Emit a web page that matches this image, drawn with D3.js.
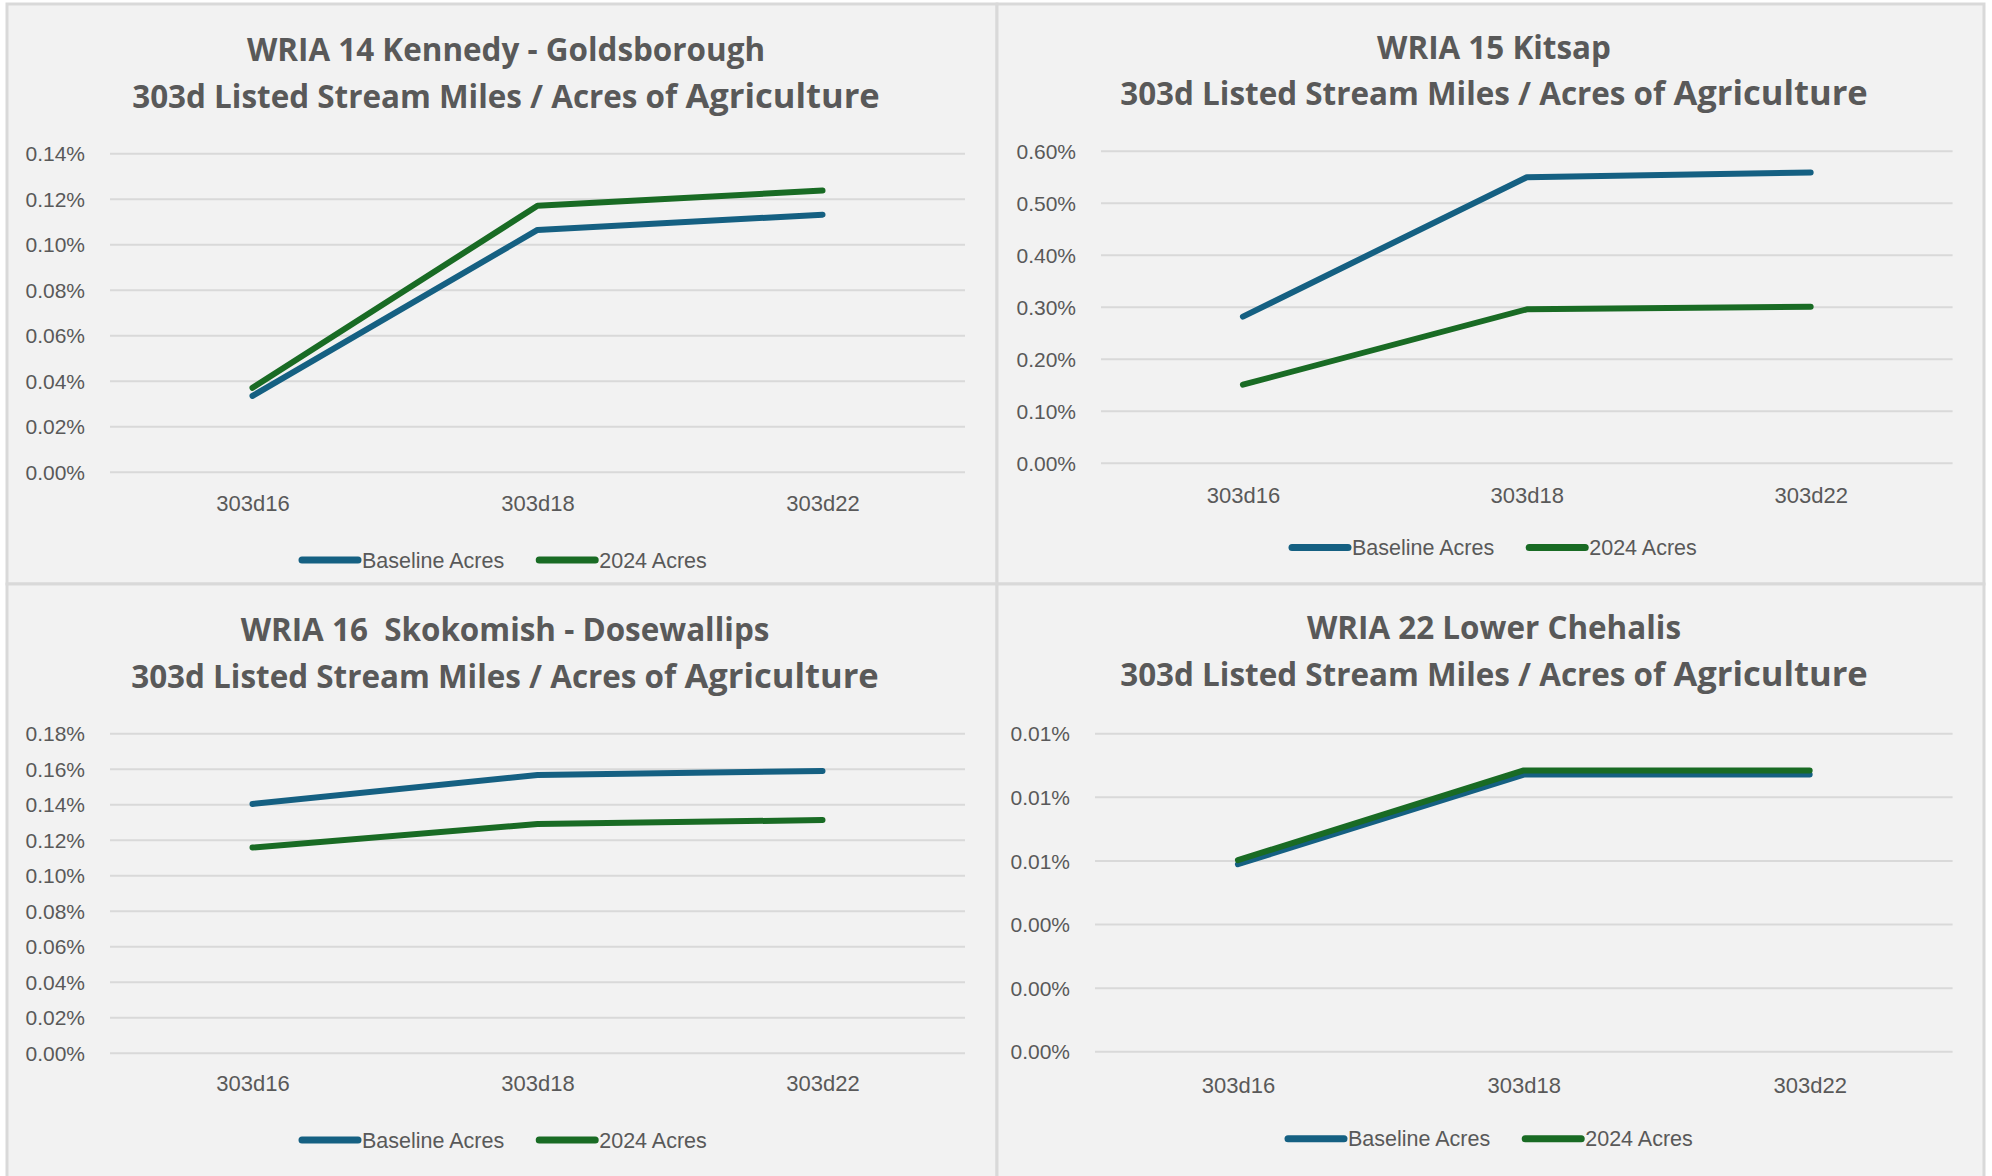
<!DOCTYPE html>
<html>
<head>
<meta charset="utf-8">
<script src="https://cdn.jsdelivr.net/npm/d3@7"></script>
<style>
  body { margin: 0; background: #ffffff; }
  svg { display: block; }
  text { fill: #595959; }
  .title { font-family: "Open Sans", "Liberation Sans", sans-serif; font-weight: 700; white-space: pre; }
  .tick-label { font-family: "Liberation Sans", Arial, sans-serif; font-size: 21px; }
  .cat-label { font-family: "Liberation Sans", Arial, sans-serif; font-size: 22px; }
  .legend-label { font-family: "Liberation Sans", Arial, sans-serif; font-size: 21.5px; }
</style>
</head>
<body>
<div id="content"></div>
<script>
var Width = 1992;
var Height = 1176;

// 数据
var categories = ["303d16", "303d18", "303d22"];
var seriesNames = ["Baseline Acres", "2024 Acres"];
var seriesColors = ["#156082", "#196b24"];

var wria14Title = "WRIA 14 Kennedy - Goldsborough";
var wria14Baseline = [0.000333, 0.001063, 0.00113];
var wria14Acres2024 = [0.000369, 0.001169, 0.001236];
var wria14Ticks = [0, 0.0002, 0.0004, 0.0006, 0.0008, 0.001, 0.0012, 0.0014];

var wria15Title = "WRIA 15 Kitsap";
var wria15Baseline = [0.00281, 0.00549, 0.00558];
var wria15Acres2024 = [0.0015, 0.00295, 0.003];
var wria15Ticks = [0, 0.001, 0.002, 0.003, 0.004, 0.005, 0.006];

var wria16Title = "WRIA 16  Skokomish - Dosewallips";
var wria16Baseline = [0.001402, 0.001565, 0.001588];
var wria16Acres2024 = [0.001156, 0.001289, 0.001311];
var wria16Ticks = [0, 0.0002, 0.0004, 0.0006, 0.0008, 0.001, 0.0012, 0.0014, 0.0016, 0.0018];

var wria22Title = "WRIA 22 Lower Chehalis";
var wria22Baseline = [0.0000588, 0.0000870, 0.0000870];
var wria22Acres2024 = [0.0000601, 0.0000883, 0.0000883];
var wria22Ticks = [0, 0.00002, 0.00004, 0.00006, 0.00008, 0.0001];

var subtitleStart = "303d Listed Stream Miles / Acres of ";
var subtitleEnd = "Agriculture";

// 布局
var panels = [
  { title: wria14Title, values: [wria14Baseline, wria14Acres2024], ticks: wria14Ticks,
    box: [7, 4, 990, 580], plot: [110, 965, 153.3, 471.7], cx: 506, t1: 61, t2: 108,
    catY: 511, legY: 560, legX: 302 },
  { title: wria15Title, values: [wria15Baseline, wria15Acres2024], ticks: wria15Ticks,
    box: [997, 4, 987, 580], plot: [1101, 1952.6, 150.7, 462.7], cx: 1494, t1: 59, t2: 105,
    catY: 503, legY: 547.5, legX: 1292 },
  { title: wria16Title, values: [wria16Baseline, wria16Acres2024], ticks: wria16Ticks,
    box: [7, 584, 990, 600], plot: [110, 965, 733.3, 1052.7], cx: 505, t1: 641, t2: 688,
    catY: 1091, legY: 1140, legX: 302 },
  { title: wria22Title, values: [wria22Baseline, wria22Acres2024], ticks: wria22Ticks,
    box: [997, 584, 987, 600], plot: [1095, 1952.6, 733.2, 1051.3], cx: 1494, t1: 639, t2: 686,
    catY: 1093, legY: 1138.7, legX: 1288 }
];

var fmt = d3.format(".2%");

var svg = d3
  .select("#content")
  .append("svg")
  .attr("width", Width)
  .attr("height", Height);

// 标题字号：按第二行宽度 (约 748px) 计算
var probe = svg.append("text").attr("class", "title").style("font-size", "30px");
probe.append("tspan").text(subtitleStart);
probe.append("tspan").style("font-size", "33px").text(subtitleEnd);
var titleSize = 30 * 748 / probe.node().getComputedTextLength();
probe.remove();

panels.forEach(function (p) {
  var g = svg.append("g");

  // 背景与边框
  g.append("rect")
    .attr("x", p.box[0])
    .attr("y", p.box[1])
    .attr("width", p.box[2])
    .attr("height", p.box[3])
    .attr("fill", "#f2f2f2")
    .attr("stroke", "#d9d9d9")
    .attr("stroke-width", 3);

  var xScale = d3.scalePoint().domain(categories).range([p.plot[0], p.plot[1]]).padding(0.5);
  var yScale = d3
    .scaleLinear()
    .domain([0, d3.max(p.ticks)])
    .range([p.plot[3], p.plot[2]]);

  // 网格线 + 纵轴标签
  var yAxis = d3
    .axisLeft(yScale)
    .tickValues(p.ticks)
    .tickSize(-(p.plot[1] - p.plot[0]))
    .tickPadding(25)
    .tickFormat(fmt);
  var ya = g
    .append("g")
    .attr("transform", "translate(" + p.plot[0] + ",0)")
    .call(yAxis);
  ya.select(".domain").remove();
  ya.selectAll("line").attr("stroke", "#d9d9d9").attr("stroke-width", 2);
  ya.selectAll("text")
    .attr("class", "tick-label")
    .attr("fill", "#595959")
    .attr("dy", "0.36em")
    .attr("font-family", null)
    .attr("font-size", null);

  // 横轴标签
  var xAxis = d3.axisBottom(xScale).tickSize(0).tickPadding(0);
  var xa = g
    .append("g")
    .attr("transform", "translate(0," + p.catY + ")")
    .call(xAxis);
  xa.select(".domain").remove();
  xa.selectAll("text")
    .attr("class", "cat-label")
    .attr("fill", "#595959")
    .attr("dy", 0)
    .attr("y", 0)
    .attr("font-family", null)
    .attr("font-size", null);

  // 折线
  var line = d3
    .line()
    .x(function (d, i) { return xScale(categories[i]); })
    .y(function (d) { return yScale(d); });
  p.values.forEach(function (vals, k) {
    g.append("path")
      .datum(vals)
      .attr("d", line)
      .attr("fill", "none")
      .attr("stroke", seriesColors[k])
      .attr("stroke-width", 6)
      .attr("stroke-linecap", "round")
      .attr("stroke-linejoin", "round");
  });

  // 标题
  g.append("text")
    .attr("class", "title")
    .attr("x", p.cx)
    .attr("y", p.t1)
    .attr("text-anchor", "middle")
    .style("font-size", titleSize + "px")
    .text(p.title);
  var t2 = g
    .append("text")
    .attr("class", "title")
    .attr("x", p.cx)
    .attr("y", p.t2)
    .attr("text-anchor", "middle")
    .style("font-size", titleSize + "px");
  t2.append("tspan").text(subtitleStart);
  t2.append("tspan").style("font-size", titleSize * 1.1 + "px").text(subtitleEnd);

  // 图例
  var lx = p.legX;
  seriesNames.forEach(function (name, k) {
    g.append("line")
      .attr("x1", lx)
      .attr("x2", lx + 56)
      .attr("y1", p.legY)
      .attr("y2", p.legY)
      .attr("stroke", seriesColors[k])
      .attr("stroke-width", 7)
      .attr("stroke-linecap", "round");
    var t = g
      .append("text")
      .attr("class", "legend-label")
      .attr("x", lx + 60)
      .attr("y", p.legY)
      .attr("dy", "0.36em")
      .text(name);
    lx = lx + 60 + t.node().getComputedTextLength() + 35;
  });
});
</script>
</body>
</html>
